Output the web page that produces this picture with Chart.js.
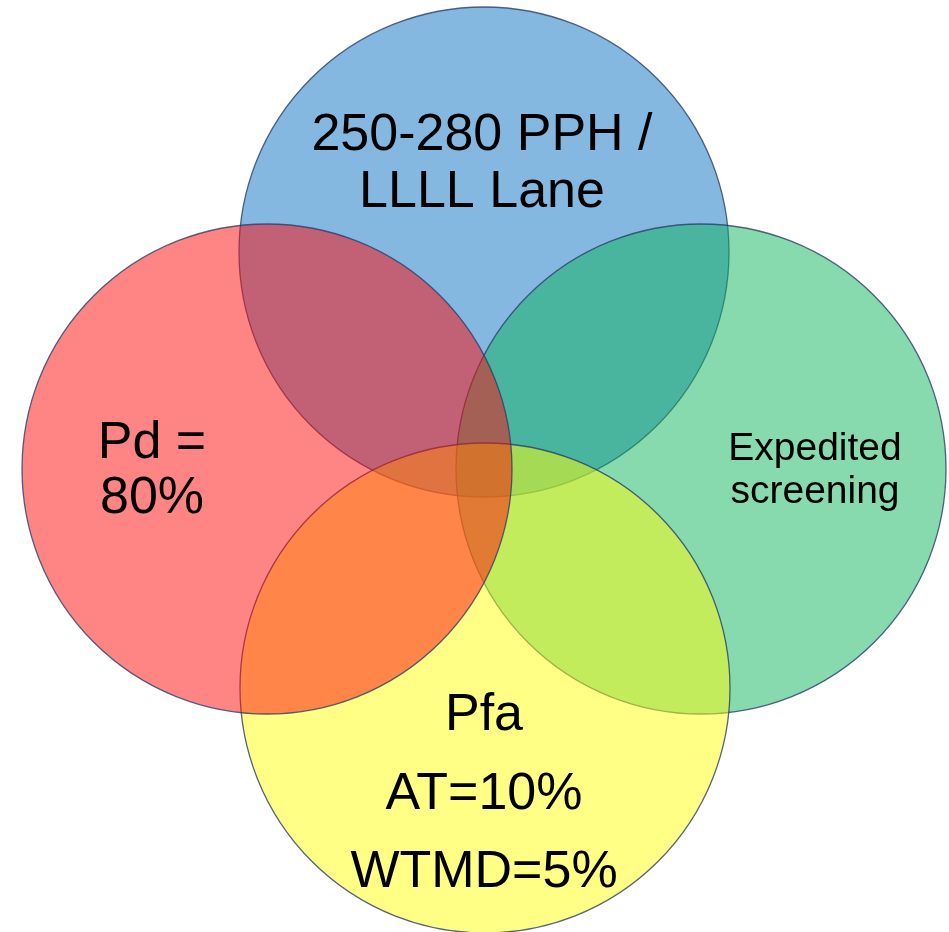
<!DOCTYPE html>
<html>
<head>
<meta charset="utf-8">
<script src="https://cdn.jsdelivr.net/npm/chart.js@4/dist/chart.umd.min.js"></script>
<style>
  html, body { margin: 0; padding: 0; background: #ffffff; }
  #wrap { width: 949px; height: 932px; }
</style>
</head>
<body>
<div id="wrap"><canvas id="c" width="949" height="932"></canvas></div>
<script>
// ---- data (drawing order: blue, green, yellow, red) ----
const categories = ['Throughput', 'Expedited', 'Pfa', 'Pd'];
const centerX = [484, 701, 485, 267];
const centerY = [252, 469, 688, 469];
const radius  = [245, 245, 245, 245];
const labelLines = [
  ['250-280 PPH /', 'LLLL Lane'],
  ['Expedited', 'screening'],
  ['Pfa', 'AT=10%', 'WTMD=5%'],
  ['Pd =', '80%']
];

// ---- styles ----
const fills = [
  'rgba(11,113,193,0.5)',
  'rgba(15,179,93,0.5)',
  'rgba(255,255,11,0.5)',
  'rgba(255,11,11,0.5)'
];
// label layout in data units: x of text centre, first baseline, line step, font size
const labelLayout = [
  { x: 482, y: 150, step: 57, size: 52 },
  { x: 815, y: 460, step: 43, size: 39 },
  { x: 484, y: 730, step: 78.5, size: 52 },
  { x: 152, y: 458, step: 55, size: 52 }
];

const points = categories.map((c, i) => ({ x: centerX[i], y: centerY[i], r: radius[i] }));

const labelPlugin = {
  id: 'vennLabels',
  afterDatasetsDraw(chart) {
    const ctx = chart.ctx;
    const xs = chart.scales.x, ys = chart.scales.y;
    ctx.save();
    ctx.fillStyle = '#000000';
    ctx.textAlign = 'center';
    ctx.textBaseline = 'alphabetic';
    labelLines.forEach((lines, i) => {
      const L = labelLayout[i];
      ctx.font = L.size + 'px "Liberation Sans", Arial, sans-serif';
      lines.forEach((t, j) => {
        ctx.fillText(t, xs.getPixelForValue(L.x), ys.getPixelForValue(L.y + j * L.step));
      });
    });
    ctx.restore();
  }
};

new Chart(document.getElementById('c'), {
  type: 'bubble',
  data: {
    labels: categories,
    datasets: [{
      data: points,
      backgroundColor: fills,
      borderColor: 'rgba(40,62,105,0.8)',
      borderWidth: 1.3,
      hoverBorderWidth: 1.3,
      clip: false
    }]
  },
  options: {
    responsive: false,
    devicePixelRatio: 1,
    animation: false,
    events: [],
    layout: { padding: 0, autoPadding: false },
    plugins: { legend: { display: false }, tooltip: { enabled: false } },
    scales: {
      x: { type: 'linear', min: 0, max: 949, display: false },
      y: { type: 'linear', min: 0, max: 932, reverse: true, display: false }
    }
  },
  plugins: [labelPlugin]
});
</script>
</body>
</html>
